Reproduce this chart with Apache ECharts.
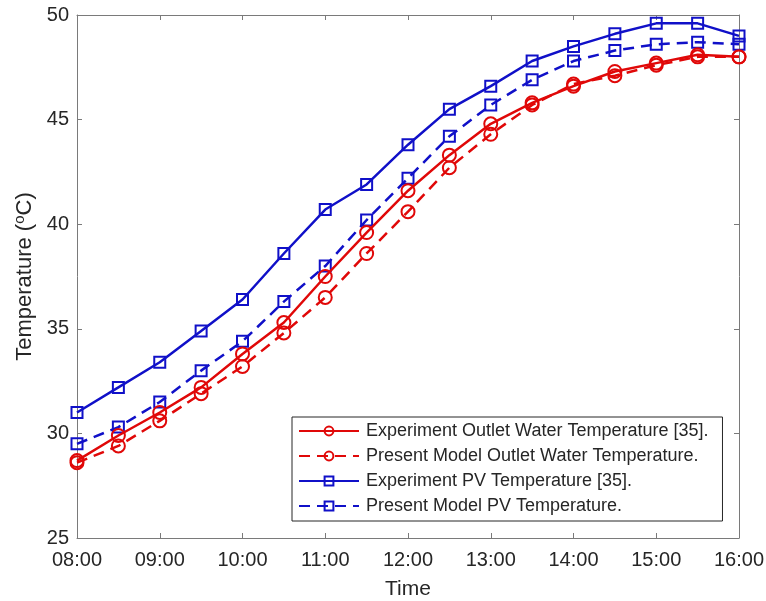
<!DOCTYPE html>
<html>
<head>
<meta charset="utf-8">
<script src="https://cdn.jsdelivr.net/npm/echarts@6/dist/echarts.min.js"></script>
<style>
  html, body { margin: 0; padding: 0; background: #fff; }
  #chart { width: 766px; height: 601px; }
</style>
</head>
<body>
<div id="chart"></div>
<script>
// Half-hourly sample times
const times = ['08:00','08:30','09:00','09:30','10:00','10:30','11:00','11:30','12:00',
               '12:30','13:00','13:30','14:00','14:30','15:00','15:30','16:00'];

// Temperatures in °C
const expOutletWater   = [28.7, 29.9, 31.0, 32.2, 33.8, 35.3, 37.5, 39.6, 41.6, 43.3, 44.8, 45.8, 46.6, 47.3, 47.7, 48.1, 48.0];
const modelOutletWater = [28.6, 29.4, 30.6, 31.9, 33.2, 34.8, 36.5, 38.6, 40.6, 42.7, 44.3, 45.7, 46.7, 47.1, 47.6, 48.0, 48.0];
const expPV            = [31.0, 32.2, 33.4, 34.9, 36.4, 38.6, 40.7, 41.9, 43.8, 45.5, 46.6, 47.8, 48.5, 49.1, 49.6, 49.6, 49.0];
const modelPV          = [29.5, 30.3, 31.5, 33.0, 34.4, 36.3, 38.0, 40.2, 42.2, 44.2, 45.7, 46.9, 47.8, 48.3, 48.6, 48.7, 48.6];

const seriesNames = [
  'Experiment Outlet Water Temperature [35].',
  'Present Model Outlet Water Temperature.',
  'Experiment PV Temperature [35].',
  'Present Model PV Temperature.'
];

const RED = '#e00808';
const BLUE = '#1010c8';
const FONT = '"Liberation Sans", Arial, sans-serif';
const AXIS = '#7a7a7a';
const TEXT = '#262626';

function makeSeries(name, data, color, dashed, symbol, size) {
  return {
    name: name,
    type: 'line',
    data: data,
    xAxisIndex: 0,
    yAxisIndex: 0,
    symbol: symbol,
    symbolSize: size,
    showAllSymbol: true,
    lineStyle: { color: color, width: 2.5, type: dashed ? [11, 7] : 'solid' },
    itemStyle: { color: 'rgba(255,255,255,0)', borderColor: color, borderWidth: 2 },
    emphasis: { disabled: true },
    animation: false,
    z: dashed ? 2 : 3
  };
}

const chart = echarts.init(document.getElementById('chart'), null, { renderer: 'canvas' });

const axisLine = { show: true, lineStyle: { color: AXIS, width: 1 } };
const tickStyle = { show: true, inside: true, length: 5, lineStyle: { color: AXIS } };

chart.setOption({
  backgroundColor: '#fff',
  animation: false,
  grid: { left: 77, right: 27, top: 15, bottom: 63, containLabel: false, outerBoundsMode: 'none' },
  legend: {
    orient: 'vertical',
    left: 292,
    top: 417,
    padding: [5, 14, 6, 6],
    itemGap: 7,
    itemWidth: 60,
    itemHeight: 11,
    backgroundColor: '#fff',
    borderColor: '#262626',
    borderWidth: 1,
    borderRadius: 0,
    textStyle: { fontFamily: FONT, fontSize: 18, color: TEXT, padding: [0, 0, 0, 2] },
    data: seriesNames,
    selectedMode: false
  },
  xAxis: [
    {
      type: 'category',
      data: times,
      boundaryGap: false,
      position: 'bottom',
      name: 'Time',
      nameLocation: 'middle',
      nameGap: 41,
      nameTextStyle: { fontFamily: FONT, fontSize: 21, color: TEXT },
      axisLine: axisLine,
      axisTick: Object.assign({ interval: 1 }, tickStyle),
      splitLine: { show: false },
      axisLabel: { interval: 1, fontFamily: FONT, fontSize: 20, color: TEXT, margin: 12 }
    },
    {
      type: 'category',
      data: times,
      boundaryGap: false,
      position: 'top',
      axisLine: axisLine,
      axisTick: Object.assign({ interval: 1 }, tickStyle),
      splitLine: { show: false },
      axisLabel: { show: false }
    }
  ],
  yAxis: [
    {
      type: 'value',
      min: 25,
      max: 50,
      interval: 5,
      position: 'left',
      name: '{t|Temperature (}{s|o}{t|C)}',
      nameLocation: 'middle',
      nameGap: 39,
      nameRotate: 90,
      nameTextStyle: {
        rich: {
          t: { fontFamily: FONT, fontSize: 22, color: TEXT },
          s: { fontFamily: FONT, fontSize: 15, color: TEXT, verticalAlign: 'top', padding: [0, 0, 10, 0] }
        }
      },
      axisLine: axisLine,
      axisTick: tickStyle,
      splitLine: { show: false },
      axisLabel: { fontFamily: FONT, fontSize: 20, color: TEXT, margin: 8 }
    },
    {
      type: 'value',
      min: 25,
      max: 50,
      interval: 5,
      position: 'right',
      axisLine: axisLine,
      axisTick: tickStyle,
      splitLine: { show: false },
      axisLabel: { show: false }
    }
  ],
  series: [
    makeSeries(seriesNames[0], expOutletWater, RED, false, 'circle', 13),
    makeSeries(seriesNames[1], modelOutletWater, RED, true, 'circle', 13),
    makeSeries(seriesNames[2], expPV, BLUE, false, 'rect', 11),
    makeSeries(seriesNames[3], modelPV, BLUE, true, 'rect', 11)
  ]
});
</script>
</body>
</html>
